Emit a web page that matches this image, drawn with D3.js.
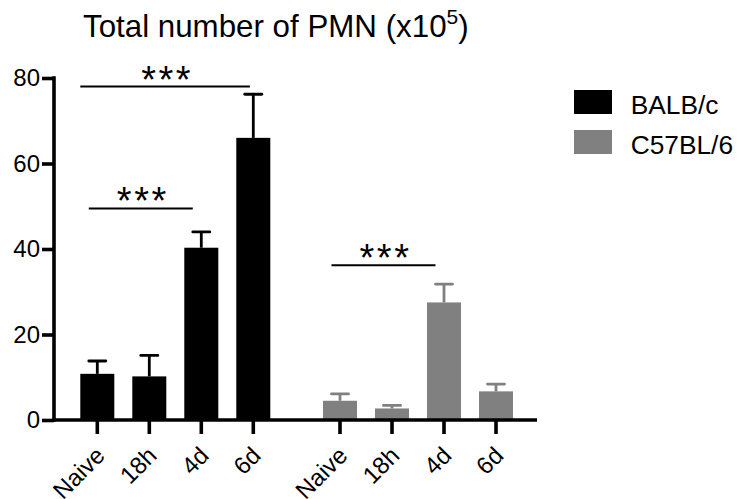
<!DOCTYPE html>
<html>
<head>
<meta charset="utf-8">
<script src="https://cdn.jsdelivr.net/npm/d3@7"></script>
<style>
  html, body { margin: 0; padding: 0; background: #fff; }
  svg { display: block; font-family: "Liberation Sans", Arial, Helvetica, sans-serif; }
</style>
</head>
<body>
<svg id="chart" width="737" height="499"></svg>
<script>
// ---------- data ----------
const groups = ["BALB/c", "C57BL/6"];
const timepoints = ["Naive", "18h", "4d", "6d"];
const balbMeans = [10.8, 10.2, 40.3, 66.0];
const balbErrTops = [13.8, 15.1, 44.0, 76.2];
const c57Means = [4.5, 2.7, 27.5, 6.7];
const c57ErrTops = [6.1, 3.4, 31.8, 8.4];
const yTicks = [0, 20, 40, 60, 80];
const titleMain = "Total number of PMN (x10";
const titleSup = "5";
const titleEnd = ")";
// significance annotations: group, from, to, bar height (y units), label
const sigGroup = ["BALB/c", "BALB/c", "C57BL/6"];
const sigFrom = ["Naive", "Naive", "Naive"];
const sigTo = ["6d", "4d", "4d"];
const sigLevel = [78.0, 49.5, 36.2];
const sigLabel = ["***", "***", "***"];

const colors = { "BALB/c": "#000000", "C57BL/6": "#808080" };

// ---------- layout ----------
const svg = d3.select("#chart");
const y = d3.scaleLinear().domain([0, 80]).range([420, 78]);
const xOuter = d3.scaleBand().domain(groups).range([71.3, 522]).paddingInner(0.143).paddingOuter(0);
const xInner = d3.scaleBand().domain(timepoints).range([0, xOuter.bandwidth()])
  .paddingInner(0.346).paddingOuter(0.173);

const series = [
  { group: "BALB/c", means: balbMeans, errs: balbErrTops },
  { group: "C57BL/6", means: c57Means, errs: c57ErrTops }
];

// bars + error bars
series.forEach(s => {
  const g = svg.append("g").attr("transform", `translate(${xOuter(s.group)},0)`);
  const rows = timepoints.map((t, i) => ({ t, m: s.means[i], e: s.errs[i] }));
  const col = colors[s.group];
  const capHalf = xInner.bandwidth() / 4;
  g.selectAll("line.stem").data(rows).join("line")
    .attr("x1", d => xInner(d.t) + xInner.bandwidth() / 2)
    .attr("x2", d => xInner(d.t) + xInner.bandwidth() / 2)
    .attr("y1", d => y(d.m)).attr("y2", d => y(d.e))
    .attr("stroke", col).attr("stroke-width", 2.8);
  g.selectAll("line.cap").data(rows).join("line")
    .attr("x1", d => xInner(d.t) + xInner.bandwidth() / 2 - capHalf)
    .attr("x2", d => xInner(d.t) + xInner.bandwidth() / 2 + capHalf)
    .attr("y1", d => y(d.e)).attr("y2", d => y(d.e))
    .attr("stroke", col).attr("stroke-width", 2.8).attr("stroke-linecap", "round");
  g.selectAll("rect").data(rows).join("rect")
    .attr("x", d => xInner(d.t))
    .attr("width", xInner.bandwidth())
    .attr("y", d => y(d.m))
    .attr("height", d => y(0) - y(d.m))
    .attr("fill", col);
});

// y axis
const yAxis = svg.append("g").attr("transform", "translate(54,0)")
  .call(d3.axisLeft(y).tickValues(yTicks).tickSize(12).tickSizeOuter(0).tickPadding(2));
yAxis.select(".domain").attr("stroke", "#000").style("stroke-width", "3.6px")
  .attr("d", `M0,${y(80) - 1.8}V${y(0) + 1.8}`);
yAxis.selectAll(".tick line").attr("stroke", "#000").style("stroke-width", "3.6px");
yAxis.selectAll(".tick text").attr("font-size", 24).attr("fill", "#000")
  .attr("font-family", "'Liberation Sans', Arial, sans-serif");

// x axis baseline
svg.append("line").attr("x1", 52.2).attr("x2", 537).attr("y1", y(0)).attr("y2", y(0))
  .attr("stroke", "#000").style("stroke-width", "3.6px");

// x ticks and labels per group
groups.forEach(gname => {
  const ax = svg.append("g").attr("transform", `translate(${xOuter(gname)},${y(0)})`)
    .call(d3.axisBottom(xInner).tickSize(14).tickSizeOuter(0));
  ax.select(".domain").remove();
  ax.selectAll(".tick line").attr("stroke", "#000").style("stroke-width", "3.6px");
  ax.selectAll(".tick text")
    .attr("font-size", 24).attr("fill", "#000")
    .attr("font-family", "'Liberation Sans', Arial, sans-serif")
    .attr("text-anchor", "end")
    .attr("y", 0).attr("dy", 0)
    .attr("transform", "translate(9,37) rotate(-45)");
});

// significance bars
sigGroup.forEach((gname, i) => {
  const x0 = xOuter(gname) + xInner(sigFrom[i]) + (i === 0 ? 0 : xInner.bandwidth() * 0.25);
  const x1 = xOuter(gname) + xInner(sigTo[i]) + xInner.bandwidth() * (i === 0 ? 0.4 : 0.25);
  const yy = y(sigLevel[i]);
  svg.append("line").attr("x1", x0).attr("x2", x1).attr("y1", yy).attr("y2", yy)
    .attr("stroke", "#000").attr("stroke-width", 2);
  svg.append("text").attr("x", (x0 + x1) / 2 + 2).attr("y", yy + 6)
    .attr("text-anchor", "middle").attr("font-size", 38).attr("letter-spacing", 2.5)
    .attr("fill", "#000").text(sigLabel[i]);
});

// title
const title = svg.append("text").attr("x", 83).attr("y", 37).attr("font-size", 31.3).attr("fill", "#000");
title.append("tspan").text(titleMain);
title.append("tspan").attr("font-size", 21).attr("dy", -13).text(titleSup);
title.append("tspan").attr("dy", 13).text(titleEnd);

// legend
const legend = svg.append("g");
groups.forEach((gname, i) => {
  const row = legend.append("g").attr("transform", `translate(574,${90 + i * 40})`);
  row.append("rect").attr("width", 38).attr("height", 24).attr("fill", colors[gname]);
  row.append("text").attr("x", 56.7).attr("y", 23.5).attr("font-size", 26.3).attr("fill", "#000").text(gname);
});
</script>
</body>
</html>
